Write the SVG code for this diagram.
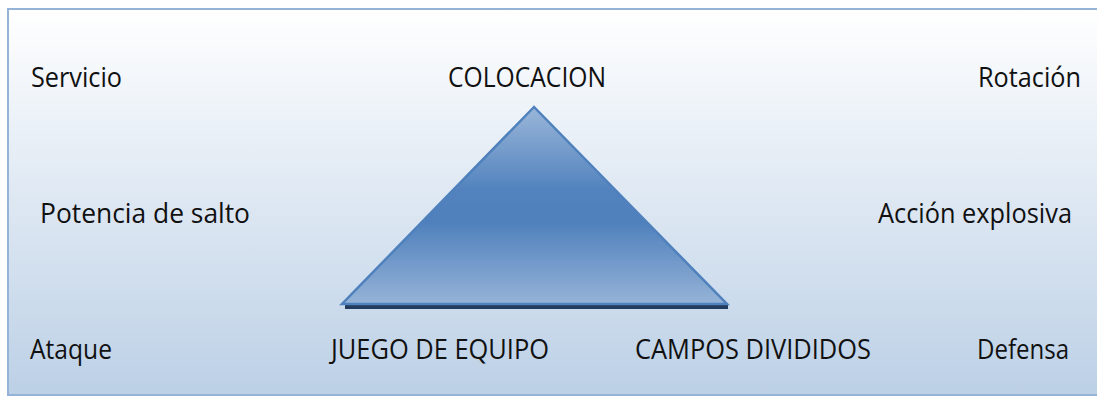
<svg xmlns="http://www.w3.org/2000/svg" width="1097" height="396" viewBox="0 0 1097 396">
  <defs>
    <linearGradient id="bg" x1="0" y1="0" x2="0" y2="1">
      <stop offset="0" stop-color="#ffffff"/>
      <stop offset="1" stop-color="#bcd0e6"/>
    </linearGradient>
    <linearGradient id="tri" x1="0" y1="0" x2="0" y2="1">
      <stop offset="0" stop-color="#9ab6d9"/>
      <stop offset="0.42" stop-color="#5283be"/>
      <stop offset="0.58" stop-color="#4f80bc"/>
      <stop offset="1" stop-color="#95b3d7"/>
    </linearGradient>
    <style>
      .t { font-family: "Open Sans", "Noto Sans", sans-serif; font-size: 27px; fill: #111111; }
    </style>
  </defs>
  <rect x="0" y="0" width="1097" height="396" fill="#ffffff"/>
  <rect id="frame" x="8" y="9" width="1100" height="386" fill="url(#bg)" stroke="#95b3d7" stroke-width="2"/>
  <g id="triangle">
    <rect x="345" y="304" width="383" height="5" fill="#223a5c"/>
    <polygon points="534,107 342,304 727,304" fill="url(#tri)" stroke="#4f81bd" stroke-width="2.5" stroke-linejoin="miter"/>
  </g>
  <g id="labels">
    <g id="servicio"><text class="t" x="31" y="87" textLength="91" lengthAdjust="spacingAndGlyphs">Servicio</text></g>
    <g id="colocacion"><text class="t" x="448" y="87" textLength="158" lengthAdjust="spacingAndGlyphs">COLOCACION</text></g>
    <g id="rotacion"><text class="t" x="978" y="87" textLength="103" lengthAdjust="spacingAndGlyphs">Rotación</text></g>
    <g id="potencia"><text class="t" x="40" y="223" textLength="210" lengthAdjust="spacingAndGlyphs">Potencia de salto</text></g>
    <g id="accion"><text class="t" x="878" y="223" textLength="194" lengthAdjust="spacingAndGlyphs">Acción explosiva</text></g>
    <g id="ataque"><text class="t" x="30" y="359" textLength="82" lengthAdjust="spacingAndGlyphs">Ataque</text></g>
    <g id="juego"><text class="t" x="331" y="359" textLength="218" lengthAdjust="spacingAndGlyphs">JUEGO DE EQUIPO</text></g>
    <g id="campos"><text class="t" x="635" y="359" textLength="236" lengthAdjust="spacingAndGlyphs">CAMPOS DIVIDIDOS</text></g>
    <g id="defensa"><text class="t" x="977" y="359" textLength="92" lengthAdjust="spacingAndGlyphs">Defensa</text></g>
  </g>
  <g id="connectors"/>
</svg>
